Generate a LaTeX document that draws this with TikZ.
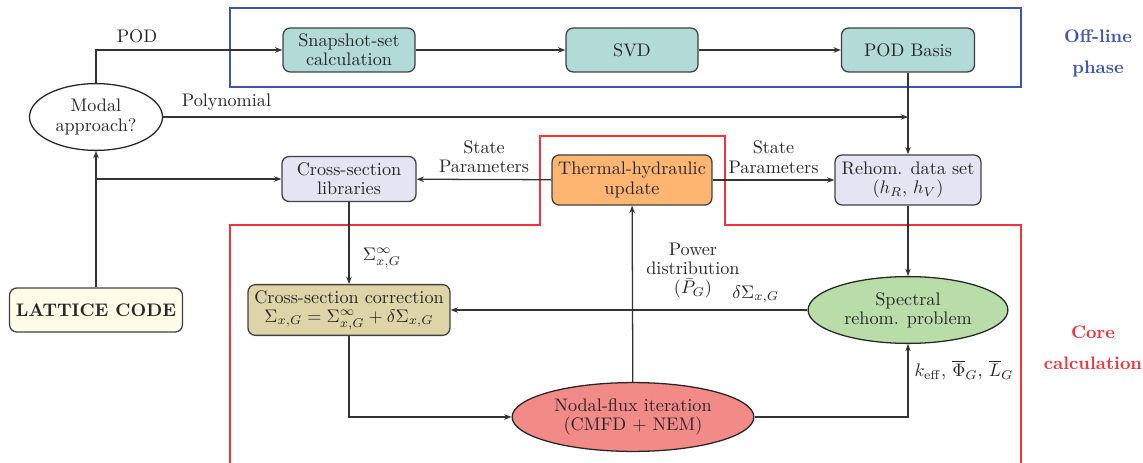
\documentclass[tikz,border=0pt]{standalone}
\usepackage{amsmath, amssymb}
\usepackage{tikz}
\usetikzlibrary{arrows.meta, positioning, calc, shapes.geometric}
\usepackage{xcolor}
\definecolor{podteal}{HTML}{B2DAD7}
\definecolor{liblav}{HTML}{E4E4F2}
\definecolor{thorange}{HTML}{FDB571}
\definecolor{corrkhaki}{HTML}{DDD5A8}
\definecolor{specgreen}{HTML}{B9DDA9}
\definecolor{nodalred}{HTML}{F28A88}
\definecolor{latcream}{HTML}{FEFBE7}
\definecolor{offblue}{HTML}{4054B2}
\definecolor{corered}{HTML}{F2333B}

\tikzset{
  box/.style={draw=black!75, line width=0.7pt, rounded corners=4pt,
              align=center, inner sep=2pt},
  oval/.style={draw=black!85, line width=0.7pt, ellipse, align=center,
               inner sep=0pt},
  conn/.style={draw=black!80, line width=0.7pt, -{Stealth[length=4pt,width=3pt]}},
  phase/.style={font=\fontsize{10pt}{10.5pt}\selectfont\bfseries, align=center}
}

\begin{document}
\begin{tikzpicture}[x=0.01931cm, y=-0.01931cm,
    font=\fontsize{10pt}{10.5pt}\selectfont, text=black!85]
    \useasboundingbox (0,0) rectangle (1143,463);

    % frames of the two phases
    \draw[offblue, line width=0.7pt] (230,8) rectangle (1021,87);
    \draw[corered, line width=0.7pt] (230,463) -- (230,225) -- (540,225)
      -- (540,136) -- (725,136) -- (725,225) -- (1021,225) -- (1021,463);
    \node[phase, offblue] (offl) at (1098,53) {Off-line\\[6.5pt]phase};
    \node[phase, corered] (corel) at (1093,348) {Core\\[6.5pt]calculation};

    % off-line blocks
    \node[box, fill=podteal, minimum width=2.55cm, minimum height=0.85cm]
      (snap) at (349,50) {Snapshot-set\\calculation};
    \node[box, fill=podteal, minimum width=2.55cm, minimum height=0.85cm]
      (svd) at (632,50) {SVD};
    \node[box, fill=podteal, minimum width=2.57cm, minimum height=0.85cm]
      (podb) at (908,50) {POD Basis};

    % lattice side
    \node[oval, minimum width=2.57cm, minimum height=1.29cm]
      (modal) at (96,117) {Modal\\approach?};
    \node[box, fill=latcream, minimum width=3.34cm, minimum height=0.85cm]
      (lattice) at (96,310) {\textbf{LATTICE CODE}};

    % core blocks
    \node[box, fill=liblav, minimum width=2.59cm, minimum height=0.87cm]
      (libs) at (349,179) {Cross-section\\libraries};
    \node[box, fill=thorange, minimum width=3.09cm, minimum height=0.97cm]
      (thermal) at (632,180) {Thermal-hydraulic\\update};
    \node[box, fill=liblav, minimum width=2.82cm, minimum height=0.97cm]
      (rehom) at (908,180) {Rehom. data set\\$(h_R$, $h_V)$};
    \node[box, fill=corrkhaki, minimum width=3.9cm, minimum height=0.98cm]
      (corr) at (349,310)
      {Cross-section correction\\$\Sigma_{x,G}=\Sigma^{\infty}_{x,G}+\delta\Sigma_{x,G}$};
    \node[oval, fill=specgreen, minimum width=3.86cm, minimum height=1.29cm]
      (spectral) at (908,310) {Spectral\\rehom. problem};
    \node[oval, fill=nodalred, minimum width=4.67cm, minimum height=1.33cm]
      (nodal) at (633,417) {Nodal-flux iteration\\(CMFD + NEM)};

    % connectors
    \coordinate (polyend) at (podb.south |- modal.east);
    \coordinate (split) at (lattice.north |- libs.west);
    \draw[conn] (modal.north) |- node[pos=0.61, above] {POD} (snap.west);
    \draw[conn] (snap) -- (svd);
    \draw[conn] (svd) -- (podb);
    \draw[conn] (podb) -- (rehom);
    \draw[conn] (modal.east) -- node[pos=0.085, above] {Polynomial} (polyend);
    \draw[conn] (lattice) -- (modal);
    \draw[conn] (split) -- (libs.west);
    \draw[conn] (thermal) -- node[above, align=center] {State\\Parameters} (libs);
    \draw[conn] (thermal) -- node[above, align=center] {State\\Parameters} (rehom);
    \draw[conn] (libs) -- node[pos=0.68, right=4pt] {$\Sigma^{\infty}_{x,G}$} (corr);
    \draw[conn] (rehom) -- (spectral);
    \draw[conn] (spectral) -- node[pos=0.145, above] {$\delta\Sigma_{x,G}$} (corr);
    \draw[conn] (corr.south) |- (nodal.west);
    \draw[conn] (nodal.east) -| node[pos=0.82, right]
      {$k_{\mathrm{eff}}$, $\overline{\Phi}_G$, $\overline{L}_G$} (spectral.south);
    \draw[conn] (nodal) -- node[pos=0.63, right=4pt, align=center]
      {Power\\distribution\\$(\bar{P}_G)$} (thermal);
\end{tikzpicture}
\end{document}
